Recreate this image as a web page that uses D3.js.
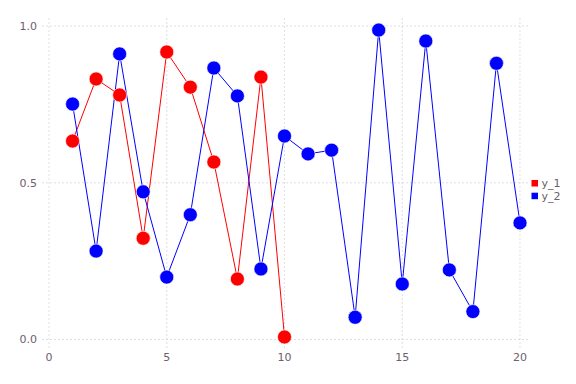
<!DOCTYPE html>
<html><head><meta charset="utf-8">
<script src="https://cdn.jsdelivr.net/npm/d3@7"></script>
<style>body{margin:0;background:#fff}svg{display:block}text{font-family:"DejaVu Sans",sans-serif}</style>
</head><body>
<script>
const xTicks = [0, 5, 10, 15, 20];
const yTicks = [0.0, 0.5, 1.0];
const seriesNames = ["y_1", "y_2"];
const seriesColors = ["#FF0000", "#0000FF"];
const y1 = [0.633, 0.831, 0.780, 0.323, 0.917, 0.805, 0.566, 0.193, 0.837, 0.008];
const y2 = [0.751, 0.282, 0.911, 0.471, 0.199, 0.398, 0.866, 0.777, 0.225, 0.649,
            0.592, 0.604, 0.071, 0.987, 0.177, 0.952, 0.222, 0.089, 0.881, 0.372];

const W = 576, H = 384;
const svg = d3.select("body").append("svg").attr("width", W).attr("height", H);
const x = d3.scaleLinear().domain([0, 20]).range([49, 520]);
const y = d3.scaleLinear().domain([0, 1]).range([339.5, 26]);
const grid = "#D0D0E0", textCol = "#6c606b";

// grid
svg.append("g").selectAll("line").data(xTicks).join("line")
  .attr("x1", d => x(d)).attr("x2", d => x(d)).attr("y1", 18).attr("y2", 348)
  .attr("stroke", grid).attr("stroke-width", 0.7).attr("stroke-dasharray", "2 2");
svg.append("g").selectAll("line").data(yTicks).join("line")
  .attr("x1", 42).attr("x2", 528).attr("y1", d => y(d)).attr("y2", d => y(d))
  .attr("stroke", grid).attr("stroke-width", 0.7).attr("stroke-dasharray", "2 2");

// tick labels
svg.append("g").selectAll("text").data(xTicks).join("text")
  .attr("x", d => x(d)).attr("y", 361).attr("text-anchor", "middle")
  .attr("font-size", 11).attr("fill", textCol).text(d => d3.format("d")(d));
svg.append("g").selectAll("text").data(yTicks).join("text")
  .attr("x", 37).attr("y", d => y(d)).attr("dy", "0.35em").attr("text-anchor", "end")
  .attr("font-size", 11).attr("fill", textCol).text(d => d3.format(".1f")(d));

const series = [y1, y2].map((vals, i) => ({name: seriesNames[i], color: seriesColors[i],
  pts: vals.map((v, j) => ({x: j + 1, y: v}))}));

const line = d3.line().x(d => x(d.x)).y(d => y(d.y));
svg.append("g").selectAll("path").data(series).join("path")
  .attr("d", d => line(d.pts)).attr("fill", "none").attr("stroke", d => d.color).attr("stroke-width", 1);

series.forEach(s => {
  svg.append("g").selectAll("circle").data(s.pts).join("circle")
    .attr("cx", d => x(d.x)).attr("cy", d => y(d.y)).attr("r", 7)
    .attr("fill", s.color).attr("stroke", "#ffffff").attr("stroke-width", 0.6);
});

// legend
const lg = svg.append("g");
series.forEach((s, i) => {
  lg.append("rect").attr("x", 531.5).attr("y", 180 + i * 12.7).attr("width", 6.5).attr("height", 6.5)
    .attr("fill", s.color);
  lg.append("text").attr("x", 541.5).attr("y", 183.5 + i * 12.7).attr("dy", "0.35em")
    .attr("font-size", 11).attr("fill", textCol).text(s.name);
});
</script>
</body></html>
